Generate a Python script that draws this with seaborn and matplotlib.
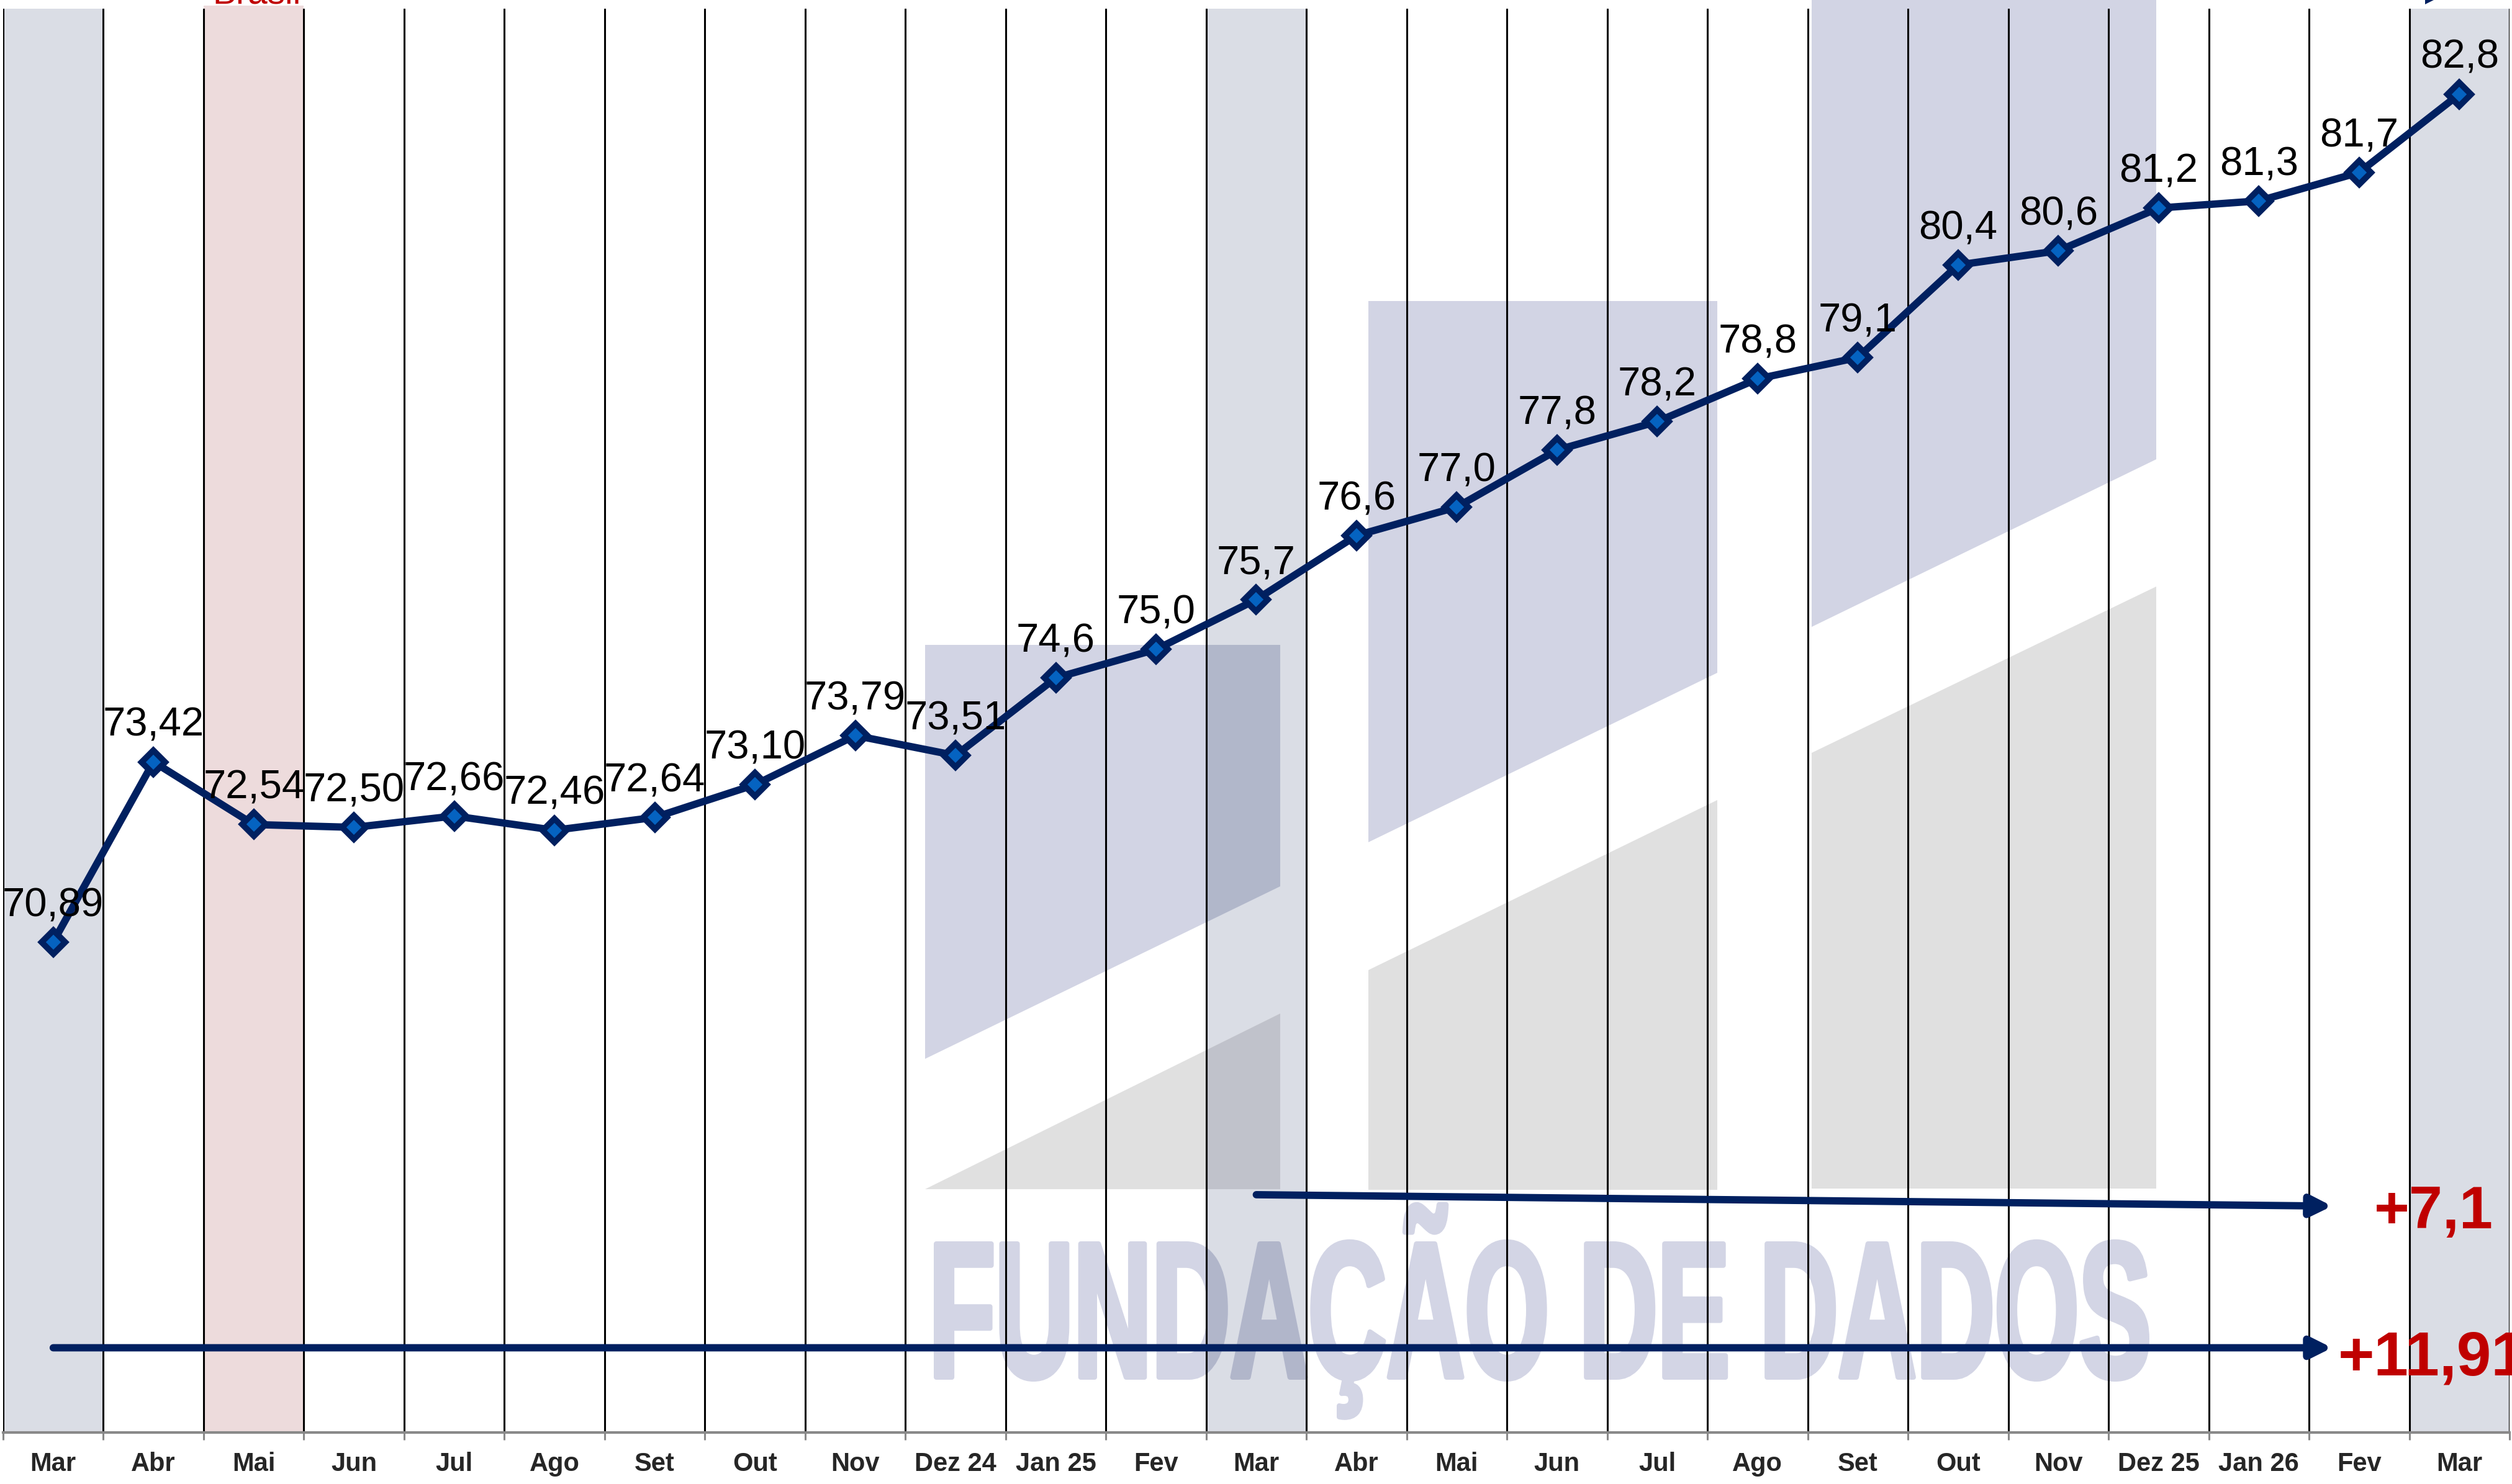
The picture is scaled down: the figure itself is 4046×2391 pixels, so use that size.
import numpy as np
import pandas as pd
import seaborn as sns
import matplotlib.pyplot as plt
from matplotlib.patches import Polygon, Rectangle, PathPatch
from matplotlib.textpath import TextPath
from matplotlib.font_manager import FontProperties
from matplotlib.path import Path

# dados (mar/24 a mar/26)
meses = ["Mar", "Abr", "Mai", "Jun", "Jul", "Ago", "Set", "Out", "Nov", "Dez 24",
         "Jan 25", "Fev", "Mar", "Abr", "Mai", "Jun", "Jul", "Ago", "Set", "Out",
         "Nov", "Dez 25", "Jan 26", "Fev", "Mar"]
valores = [70.89, 73.42, 72.54, 72.50, 72.66, 72.46, 72.64, 73.10, 73.79, 73.51,
           74.6, 75.0, 75.7, 76.6, 77.0, 77.8, 78.2, 78.8, 79.1, 80.4,
           80.6, 81.2, 81.3, 81.7, 82.8]
casas = [2] * 10 + [1] * 15          # casas decimais de cada rótulo
destaque_cinza = [0, 12, 24]         # colunas de março
destaque_rosa = [2]                  # coluna "Brasil"

sns.set_theme(style="white")
plt.rcParams['font.family'] = ['Liberation Sans', 'DejaVu Sans']

W, H = 4046, 2391
navy = "#002060"
lav = "#D2D4E4"
cinza_logo = "#E0E0E0"
vermelho = "#C00000"

fig = plt.figure(figsize=(W / 100, H / 100), dpi=100)
ax = fig.add_axes([5 / W, 1 - 2308 / H, (4042 - 5) / W, (2308 - 14) / H])

x = np.arange(len(meses))
df = pd.DataFrame({"pos": x, "valor": valores})
ax.set_xlim(-0.5, len(meses) - 0.5)
ax.set_ylim(64, 84)

# colunas sombreadas
for i in destaque_cinza:
    ax.axvspan(i - 0.5, i + 0.5, color="#DADDE5", lw=0, zorder=0)
for i in destaque_rosa:
    ax.axvspan(i - 0.5, i + 0.5, ymax=1.002, color="#EDDBDC", lw=0, zorder=0, clip_on=False)


def fig_pts(pts):
    return [(px / W, 1 - py / H) for px, py in pts]


# logo (marca d'agua)
logo_lav = [
    [(1490, 1039), (2062, 1039), (2062, 1428), (1490, 1706)],
    [(2204, 485), (2766, 485), (2766, 1084), (2204, 1357)],
    [(2918, 0), (3473, 0), (3473, 740), (2918, 1010)],
]
logo_cinza = [
    [(1490, 1916), (2062, 1633), (2062, 1916)],
    [(2204, 1563), (2766, 1289), (2766, 1917), (2204, 1917)],
    [(2918, 1213), (3473, 945), (3473, 1915), (2918, 1915)],
]


def sobre_mar25(artista):
    # parte da marca d'agua que fica sobre a coluna de mar/25 (mais escura)
    ax.add_patch(artista)
    artista.set_clip_path(Rectangle((11.5, 64), 1, 20, transform=ax.transData))


for pts in logo_lav:
    ax.add_patch(Polygon(fig_pts(pts), closed=True, fc=lav, lw=0,
                         transform=fig.transFigure, zorder=1, clip_on=False))
    sobre_mar25(Polygon(fig_pts(pts), closed=True, fc="#B1B7CA", lw=0,
                        transform=fig.transFigure, zorder=1.1))
for pts in logo_cinza:
    ax.add_patch(Polygon(fig_pts(pts), closed=True, fc=cinza_logo, lw=0,
                         transform=fig.transFigure, zorder=1, clip_on=False))
    sobre_mar25(Polygon(fig_pts(pts), closed=True, fc="#C0C2CB", lw=0,
                        transform=fig.transFigure, zorder=1.1))

# texto da marca d'agua, comprimido na horizontal e engrossado pelo contorno
fp = FontProperties(family="Liberation Sans", weight="bold")
tp = TextPath((0, 0), "FUNDAÇÃO DE DADOS", size=100, prop=fp)
cap = TextPath((0, 0), "H", size=100, prop=fp).get_extents().height
ext = tp.get_extents()
borda = 4
sx = (3462 - 1504 - 2 * borda) / ext.width
sy = (223 - 2 * borda) / cap
verts = tp.vertices.copy()
verts[:, 0] = (1504 + borda + (verts[:, 0] - ext.x0) * sx) / W
verts[:, 1] = ((H - 2223 + borda) + verts[:, 1] * sy) / H
ax.add_patch(PathPatch(Path(verts, tp.codes), fc="#D3D5E5", ec="#D3D5E5",
                       lw=2 * borda * 0.72, joinstyle="round",
                       transform=fig.transFigure, zorder=1, clip_on=False))
sobre_mar25(PathPatch(Path(verts, tp.codes), fc="#B1B6CA", ec="#B1B6CA",
                      lw=2 * borda * 0.72, joinstyle="round",
                      transform=fig.transFigure, zorder=1.1))

# linhas verticais separando os meses
bordas = np.arange(-0.5, len(meses), 1.0)
for b in bordas:
    ax.axvline(b, color="black", lw=2.2, zorder=2)

# série
sns.lineplot(data=df, x="pos", y="valor", ax=ax, color=navy, lw=8.5,
             marker="D", markersize=19, markeredgecolor=navy,
             markerfacecolor="#0563C1", markeredgewidth=7, zorder=4)

for i, v in enumerate(valores):
    txt = f"{v:.{casas[i]}f}".replace(".", ",")
    ax.annotate(txt, (i, v), xytext=(0, 30), textcoords="offset points",
                ha="center", va="baseline", fontsize=47, color="black", zorder=5)

# setas de variação
var_ano = valores[-1] - valores[12]
var_total = valores[-1] - valores[0]
estilo = dict(arrowstyle="-|>,head_length=0.4,head_width=0.2", lw=8.5, color=navy,
              mutation_scale=50, shrinkA=0, shrinkB=0)
ax.annotate("", xy=(22.73, 67.18), xytext=(12, 67.34), arrowprops=estilo, zorder=6)
ax.annotate("", xy=(22.73, 65.19), xytext=(0, 65.19), arrowprops=estilo, zorder=6)
ax.text(23.15, 66.87, "+" + f"{var_ano:.1f}".replace(".", ","), fontsize=70,
        fontweight="bold", color=vermelho, ha="left", va="baseline", zorder=6, clip_on=False)
ax.text(22.79, 64.81, "+" + f"{var_total:.2f}".replace(".", ","), fontsize=72,
        fontweight="bold", color=vermelho, ha="left", va="baseline", zorder=6, clip_on=False)

# eixos
ax.set_xticks(x)
ax.set_xticklabels(meses, fontsize=30, fontweight="bold", color="#262626")
ax.set_xticks(bordas, minor=True)
ax.tick_params(axis="x", which="major", length=0, pad=22)
ax.tick_params(axis="x", which="minor", length=8.6, width=2.2, color="#898989",
               direction="out", bottom=True)
ax.set_yticks([])
ax.set_xlabel("")
ax.set_ylabel("")
for s in ["left", "top", "right"]:
    ax.spines[s].set_visible(False)
ax.spines["bottom"].set_color("#898989")
ax.spines["bottom"].set_linewidth(3)
ax.spines["bottom"].set_zorder(3)

# título cortado no topo e marcador de legenda
fig.text(414 / W, 1 - 6 / H, "Brasil", color=vermelho, fontsize=41,
         ha="center", va="baseline")
fig.patches.append(Polygon(fig_pts([(3906, 0), (3920, 0), (3906, 7)]), closed=True,
                           fc=navy, lw=0, transform=fig.transFigure, figure=fig))

fig.savefig("out.png", dpi=100)
